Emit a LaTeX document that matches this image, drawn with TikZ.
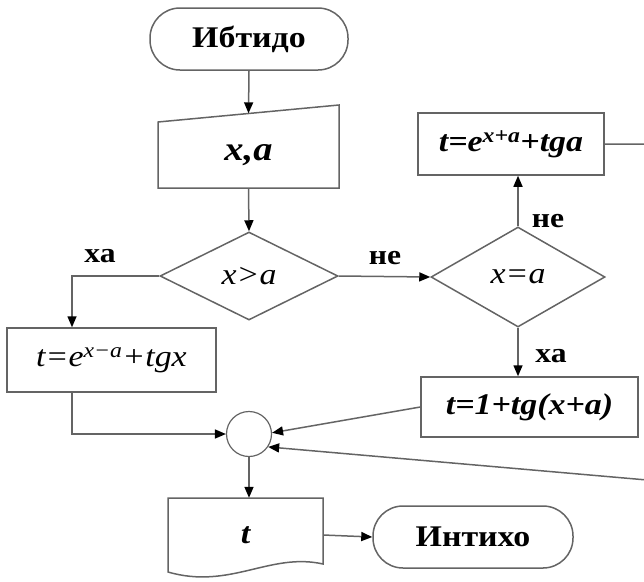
\documentclass[tikz,border=0pt]{standalone}
\usepackage{fontspec}
\setmainfont{Liberation Serif}[FakeStretch=1.13]
\usetikzlibrary{arrows.meta,shapes.geometric}
\definecolor{lc}{RGB}{100,100,100}
\begin{document}
\begin{tikzpicture}[x=1pt,y=-1pt,
 ln/.style={draw=lc, line width=1.5pt},
 arr/.style={ln,-{Triangle[length=11pt,width=9pt,color=black]}},
 term/.style={draw=lc, line width=1.5pt, rounded corners=30pt, minimum height=62pt, inner sep=0pt, font=\fontsize{30}{32}\selectfont\bfseries},
 proc/.style={draw=lc, line width=1.5pt, inner sep=0pt},
 dec/.style={draw=lc, diamond, aspect=2, inner sep=0pt, line width=1.5pt},
 lbl/.style={font=\fontsize{28}{30}\selectfont\bfseries},
 fml/.style={font=\fontsize{30}{32}\selectfont\itshape},
 bfml/.style={font=\fontsize{30}{32}\selectfont\bfseries\itshape}
]
\useasboundingbox (0,0) rectangle (644,581);
\clip (0,0) rectangle (644,581);
% start
\node[term, minimum width=198pt] (start) at (249,39) {Ибтидо};
% input
\draw[ln] (158,122) -- (339,105) -- (339,188) -- (158,188) -- cycle;
\node[bfml, font=\fontsize{34}{36}\selectfont\bfseries\itshape, minimum width=181pt, minimum height=66pt, inner sep=0pt] (inp) at (248.5,155) {x,a};
% decisions
\node[dec, minimum width=178pt, minimum height=88pt] (d1) at (249,276) {};
\node[fml] at (d1) {x>a};
\node[dec, minimum width=174pt, minimum height=100pt] (d2) at (518,277) {};
\node[fml] at (d2) {x=a};
% processes
\node[proc, fml, minimum width=209pt, minimum height=64pt] (b1) at (111.5,360) {t=e\textsuperscript{x−a}+tgx};
\node[proc, bfml, minimum width=186pt, minimum height=62pt] (b3) at (511,144) {t=e\textsuperscript{x+a}+tga};
\node[proc, bfml, minimum width=217pt, minimum height=60pt] (b4) at (529.5,407) {t=1+tg(x+a)};
% connector circle
\node[circle, draw=lc, line width=1.2pt, minimum size=45pt, inner sep=0pt] (c) at (249,434) {};
% output document
\draw[ln] (168,498) -- (323,498) -- (323,564) .. controls (270,552) and (230,590) .. (168,572) -- cycle;
\node[bfml, minimum width=155pt, minimum height=74pt, inner sep=0pt] (outb) at (245.5,535) {t};
% end
\node[term, minimum width=200pt] (fin) at (473,537) {Интихо};
% coordinates off the right edge
\coordinate (r1) at (670,144);
\coordinate (r2) at (670,482);
% connectors
\draw[arr] (start.south) -- ([yshift=8.5pt]inp.north);
\draw[arr] (inp.south) -- (d1.north);
\draw[arr] (d1.west) -| ([xshift=-39.5pt]b1.north);
\draw[arr] (d1.east) -- (d2.west);
\draw[arr] (d2.north) -- (d2.north |- b3.south);
\draw[arr] (d2.south) -- (d2.south |- b4.north);
\draw[arr] ([xshift=-39.5pt]b1.south) |- (c.west);
\draw[arr] (b4.west) -- (c.3);
\draw[arr] (b3.east) -- (r1) -- (r2) -- (c.-34);
\draw[arr] (c.south) -- (c.south |- outb.north);
\draw[arr] (outb.east) -- (fin.west);
% labels
\node[lbl] at (100,256) {ха};
\node[lbl] at (385,258) {не};
\node[lbl] at (548,221) {не};
\node[lbl] at (551,356) {ха};
\end{tikzpicture}
\end{document}
